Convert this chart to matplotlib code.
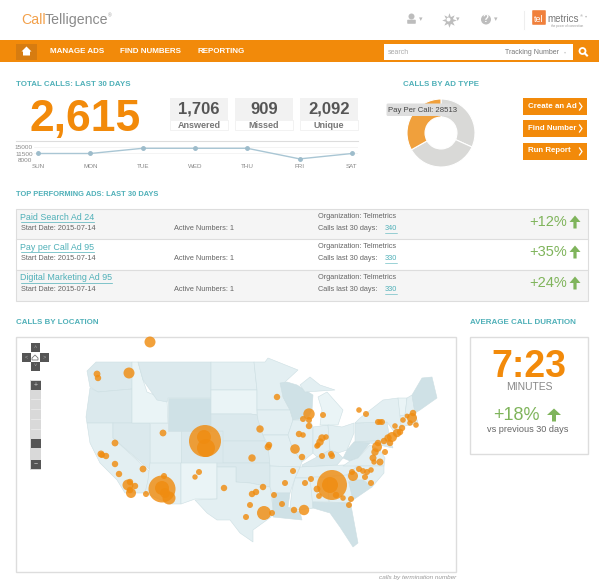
#dashboard mockup: everything laid out in pixel coordinates of the 599x587 screenshot
import matplotlib
matplotlib.use('Agg')
import matplotlib.pyplot as plt
from matplotlib.patches import Rectangle, Polygon, Circle, FancyBboxPatch, FancyArrow

plt.rcParams['font.family'] = ['Liberation Sans', 'DejaVu Sans']

W, H = 599, 587
ORANGE = '#f28a0a'
TEAL = '#4fb0b8'
GREEN = '#7fb45b'
DARK = '#555555'
GREY = '#777777'

#calls per day
days = ['SUN', 'MON', 'TUE', 'WED', 'THU', 'FRI', 'SAT']
day_calls = [11500, 11500, 14300, 14300, 14300, 8600, 11500]
call_ticks = [8000, 11500, 15000]

#donut
ad_type_calls = [27300, 30100, 28513]
ad_type_colors = ['#d9d9d7', '#d9d9d7', '#f0a03c']

#summary boxes
stat_values = ['1,706', '909', '2,092']
stat_labels = ['Answered', 'Missed', 'Unique']
stat_lefts = [170, 235, 300]
button_labels = ['Create an Ad', 'Find Number', 'Run Report']
button_tops = [98, 120, 143]

#top ads table
ad_names = ['Paid Search Ad 24', 'Pay per Call Ad 95', 'Digital Marketing Ad 95']
ad_calls = ['340', '330', '330']
ad_change = ['+12%', '+35%', '+24%']
ad_fills = ['#f5f5f5', '#ffffff', '#f5f5f5']

#state outlines, screenshot pixels, (points, shade)
L0, L1, L2, L3 = '#eaf4f6', '#e3eff2', '#dbe9ed', '#cfe1e6'
states = [
    ([(87,371),(96,362),(132,362),(132,389),(98,392),(90,387)], L2),  #WA
    ([(90,388),(98,392),(132,389),(132,423),(87,423),(86,417)], L2),  #OR
    ([(87,423),(113,423),(113,438),(149,471),(147,493),(125,493),(117,480),(100,463),(90,443)], L1),  #CA
    ([(113,423),(150,423),(150,470),(113,438)], L2),  #NV
    ([(132,362),(138,362),(143,380),(147,392),(167,400),(168,423),(132,423)], L0),  #ID
    ([(138,362),(211,362),(211,398),(168,398),(167,402),(157,400),(143,380)], L2),  #MT
    ([(168,398),(211,398),(211,431),(168,431)], L3),  #WY
    ([(150,423),(168,423),(168,431),(181,431),(181,463),(150,463)], L1),  #UT
    ([(181,431),(223,431),(223,463),(181,463)], L2),  #CO
    ([(150,463),(181,463),(181,504),(170,504),(145,493),(148,480)], L1),  #AZ
    ([(181,463),(217,463),(217,499),(195,499),(181,504)], L0),  #NM
    ([(211,362),(254,362),(257,390),(211,390)], L1),  #ND
    ([(211,390),(257,390),(257,415),(251,414),(211,414)], L0),  #SD
    ([(211,414),(251,414),(257,415),(263,435),(265,441),(223,441),(223,431),(211,431)], L2),  #NE
    ([(223,441),(265,441),(270,446),(270,463),(223,463)], L2),  #KS
    ([(223,463),(270,463),(270,487),(250,483),(236,482),(236,467),(217,467),(217,463)], L2),  #OK
    ([(217,467),(236,467),(236,482),(250,483),(270,487),(273,508),(271,517),(253,530),(253,542),(240,533),(230,520),(217,520),(207,513),(195,500),(217,499)], L1),  #TX
    ([(254,362),(265,362),(268,358),(298,370),(285,382),(283,397),(290,410),(257,410),(257,390)], L1),  #MN
    ([(257,410),(290,410),(293,420),(288,435),(263,435),(258,420)], L1),  #IA
    ([(263,435),(288,435),(292,447),(302,462),(300,467),(270,466),(268,445)], L1),  #MO
    ([(280,383),(287,382),(297,385),(313,395),(312,410),(308,418),(293,420),(290,410),(283,397)], L3),  #WI
    ([(293,420),(310,420),(313,427),(313,453),(302,462),(292,447),(288,435)], L1),  #IL
    ([(313,427),(328,425),(330,450),(317,457),(313,453)], L1),  #IN
    ([(318,397),(327,392),(343,410),(338,425),(320,425),(322,410)], L0),  #MI
    ([(300,385),(310,377),(320,385),(335,390),(305,392)], L1),  #MI upper
    ([(328,425),(342,427),(354,423),(354,433),(347,450),(338,453),(330,450)], L1),  #OH
    ([(302,465),(317,457),(330,450),(338,453),(343,458),(337,465),(302,467)], L2),  #KY
    ([(300,467),(343,465),(358,466),(347,475),(295,478)], L1),  #TN
    ([(347,450),(354,442),(362,442),(370,443),(358,458),(350,461),(343,458)], L3),  #WV
    ([(343,466),(350,461),(358,458),(370,445),(380,450),(385,458),(384,466)], L1),  #VA
    ([(347,475),(358,466),(384,466),(384,473),(372,487),(363,480),(350,480)], L1),  #NC
    ([(350,480),(363,480),(372,487),(353,500),(345,490)], L3),  #SC
    ([(327,477),(347,475),(353,500),(348,503),(329,502)], L1),  #GA
    ([(310,478),(327,477),(329,502),(313,502),(313,508),(309,508)], L1),  #AL
    ([(295,478),(310,478),(313,508),(300,510),(290,508),(292,490)], L1),  #MS
    ([(270,466),(300,467),(295,478),(290,493),(272,493),(270,487)], L1),  #AR
    ([(272,493),(290,493),(288,507),(300,512),(302,520),(273,517),(273,508)], L3),  #LA
    ([(313,502),(348,503),(350,500),(358,543),(353,547),(340,527),(330,513),(313,508)], L3),  #FL
    ([(355,423),(387,422),(390,440),(355,442)], L2),  #PA
    ([(355,423),(360,418),(383,400),(398,398),(402,422),(398,437),(387,422)], L1),  #NY
    ([(354,442),(390,440),(393,448),(370,443)], L2),  #MD
    ([(398,398),(407,398),(405,415),(400,416)], L0),  #VT
    ([(407,398),(412,395),(415,413),(405,415)], L1),  #NH
    ([(400,416),(415,413),(418,423),(401,427)], L1),  #MA
    ([(412,395),(422,378),(432,377),(437,398),(420,410),(415,413)], L3),  #ME
]

#bubbles: x, y, radius in screenshot pixels
bub_x = [150,97,98,129,163,205,204,206,115,101,106,102,115,119,143,164,199,195,224,162,162,169,165,146,128,135,130,131,130,
         277,309,303,309,309,323,359,366,378,382,380,260,299,303,318,320,322,326,317,269,268,295,302,252,322,331,332,
         293,311,305,285,332,330,317,319,343,336,263,252,256,274,250,246,264,272,282,294,304,351,349,371,353,352,
         359,363,367,365,371,380,373,374,385,377,375,378,384,390,392,397,402,395,388,400,412,413,403,416,407,410]
bub_y = [342,374,378,373,433,441,437,448,443,454,456,455,464,474,469,476,472,477,488,489,488,498,493,494,485,486,482,493,490,
         397,414,419,420,426,415,410,414,422,422,422,429,434,435,445,442,438,437,446,445,447,449,457,458,456,454,456,
         471,479,483,483,485,485,489,496,498,495,487,494,492,495,505,517,513,513,504,510,510,499,505,483,476,472,
         469,471,472,477,470,462,458,462,452,447,452,443,441,443,437,433,428,426,438,432,418,413,420,425,416,423]
bub_r = [5.5,3.4,3.2,5.5,3.4,16,7,9,3.4,3.5,3.2,3,3.2,3.2,3.4,3,3,2.7,3.2,13.5,7,6.5,5,3,5.5,3.2,3.2,5,3.2,
         3.2,5.7,3,3,3.2,3,2.8,3,3,3,2.8,3.7,3.2,2.8,2.8,3.7,3.7,2.8,2.8,3.2,3.4,4.8,3.2,3.7,3,3,3,
         3,3,3,3,15,8,3.4,2.9,2.8,3.2,3.2,3.2,3.2,3,3,3,7,3,3,3.2,5.2,3,3,3,5,3,
         3,2.9,3,3,2.8,3.5,3.5,2.7,3,5,3.7,3.2,3.2,3.2,5,4.2,3.2,2.8,3.7,3.2,5,3.2,2.8,2.8,2.4,2.8]


def rect(x0, y0, x1, y1, **kw):
    ax.add_patch(Rectangle((x0, y0), x1 - x0, y1 - y0, **kw))

def label(x, y, s, size, color=DARK, weight='normal', ha='left', **kw):
    ax.text(x, y + 1, s, fontsize=size, color=color, fontweight=weight, ha=ha, va='center', **kw)

def inset(x0, y0, x1, y1):
    return fig.add_axes([x0 / W, 1 - y1 / H, (x1 - x0) / W, (y1 - y0) / H])

def up_arrow(x, y, head=11, stem=3.2):
    ax.add_patch(FancyArrow(x, y + 6.5, 0, -13, width=stem, head_width=head, head_length=6.5,
                            length_includes_head=True, color=GREEN, lw=0))


fig = plt.figure(figsize=(W / 100, H / 100), dpi=100)
ax = fig.add_axes([0, 0, 1, 1])
ax.set_xlim(0, W)
ax.set_ylim(H, 0)
ax.axis('off')

#header
label(21.5, 19, 'Call', 10.2, color='#f2a04a')
label(45, 19, 'Telligence', 10.2, color='#8a8a8a')
label(108, 15, '®', 3.5, color='#999999')
#person icon
ax.add_patch(Circle((411.5, 16.5), 3, color='#bdbdbd', lw=0))
ax.add_patch(FancyBboxPatch((408, 20.5), 7, 2.5, boxstyle='round,pad=0.8', color='#bdbdbd', lw=0))
label(421, 19, '▾', 5, color='#bbbbbb', ha='center')
#gear icon
ax.scatter([448.5], [19.5], s=110, marker=(8, 1, 0), color='#bdbdbd', lw=0)
ax.add_patch(Circle((448.5, 19.5), 2, color='white', lw=0))
label(458, 19, '▾', 5, color='#bbbbbb', ha='center')
#help icon
ax.add_patch(Circle((486, 19.5), 5, color='#bdbdbd', lw=0))
label(486, 18.5, '?', 7, color='white', weight='bold', ha='center')
label(496, 19, '▾', 5, color='#bbbbbb', ha='center')
ax.plot([524, 524], [11, 29], color='#eeeeee', lw=0.8)
#telmetrics logo
ax.add_patch(FancyBboxPatch((533, 11), 12, 13, boxstyle='round,pad=0.8', color='#f0803c', lw=0))
label(539, 19, 'tel', 6.5, color='white', ha='center')
label(547, 18.5, 'metrics', 7, color='#777777')
label(580, 15, '®', 3, color='#999999')
label(567, 25, 'the power of connection', 2.2, color='#999999', ha='center')
label(586, 15, '▾', 3, color='#bbbbbb', ha='center')

#nav bar
rect(0, 40, W, 62, color=ORANGE, lw=0)
rect(16, 44, 37, 60, color='#d77c10', lw=0)
ax.add_patch(Polygon([(21.5, 51.5), (26.5, 46.5), (31.5, 51.5), (30, 51.5), (30, 55.5), (23, 55.5), (23, 51.5)], color='white', lw=0))
label(50, 50.5, 'MANAGE ADS', 5.8, color='white', weight='bold')
label(120.5, 50.5, 'FIND NUMBERS', 5.8, color='white', weight='bold')
label(197, 50.5, 'REPORTING', 5.8, color='white', weight='bold')
rect(384, 44, 573, 60, color='white', lw=0)
label(387.5, 51, 'search', 5, color='#aaaaaa')
label(505, 51, 'Tracking Number', 5, color='#777777')
label(565, 51, '▾', 3, color='#cccccc', ha='center')
ax.add_patch(Circle((582.5, 51), 3, fill=False, ec='white', lw=1.3))
ax.plot([584.7, 587], [53.2, 55.5], color='white', lw=1.5)

#total calls
label(16, 84, 'TOTAL CALLS: LAST 30 DAYS', 5.7, color=TEAL, weight='bold')
label(85.5, 119, '2,615', 32, color=ORANGE, weight='bold', ha='center')
for left, value, name in zip(stat_lefts, stat_values, stat_labels):
    rect(left, 98, left + 58, 120, color='#f2f2f2', lw=0)
    rect(left, 120, left + 58, 130, fc='white', ec='#f0f0f0', lw=0.6)
    label(left + 29, 108.5, value, 12, weight='bold', ha='center')
    label(left + 29, 124.5, name, 6.5, color=GREY, weight='bold', ha='center')

ax.plot([16, 358], [141, 141], color='#dddddd', lw=0.8)

#calls per day chart
line_ax = inset(34, 147, 358, 160)
line_ax.set_xlim(-0.076, 6.115)
line_ax.set_ylim(8000, 15000)
line_ax.plot(range(len(days)), day_calls, color='#a9c6d4', lw=1, marker='o', ms=2.5,
             mfc='#9dbccb', mec='#9dbccb', clip_on=False)
line_ax.set_xticks(range(len(days)))
line_ax.set_xticklabels(days, fontsize=4.5, color='#888888')
line_ax.set_yticks(call_ticks)
line_ax.set_yticklabels([str(v) for v in call_ticks], fontsize=4.6, color='#888888')
line_ax.tick_params(length=0, pad=1)
line_ax.tick_params(axis='x', pad=3)
line_ax.grid(axis='y', color='#f0f0f0', lw=0.5)
line_ax.set_axisbelow(True)
line_ax.patch.set_alpha(0)
for spine in line_ax.spines.values():
    spine.set_visible(False)

#calls by ad type
label(403, 84, 'CALLS BY AD TYPE', 5.7, color=TEAL, weight='bold')
pie_ax = inset(441 - 34, 133 - 34, 441 + 34, 133 + 34)
pie_ax.pie(ad_type_calls, colors=ad_type_colors, startangle=90, counterclock=False, radius=1,
           wedgeprops=dict(width=0.53, edgecolor='white', linewidth=0.8))
pie_ax.set_xlim(-1, 1)
pie_ax.set_ylim(-1, 1)
tip_ax = inset(0, 0, W, H)
tip_ax.set_xlim(0, W)
tip_ax.set_ylim(H, 0)
tip_ax.axis('off')
tip_ax.add_patch(FancyBboxPatch((388, 105), 62, 9.5, boxstyle='round,pad=1.5', color='#dedede', lw=0))
tip_ax.text(388.5, 110.5, 'Pay Per Call: 28513', fontsize=5.6, color='#444444', va='center')

#buttons
for top, name in zip(button_tops, button_labels):
    rect(523, top, 587, top + 16.5, color=ORANGE, lw=0)
    label(528, top + 7, name, 5.7, color='white', weight='bold')
    ax.plot([579.5, 582, 579.5], [top + 5, top + 8.5, top + 12], color='white', lw=0.9)

#top performing ads
label(16, 194, 'TOP PERFORMING ADS: LAST 30 DAYS', 5.4, color=TEAL, weight='bold')
row_tops = [209, 239, 270]
for top, name, calls, change, fill in zip(row_tops, ad_names, ad_calls, ad_change, ad_fills):
    rect(15.5, top, 588, top + 30.5, fc=fill, ec='#dddddd', lw=0.8)
    label(20.5, top + 7, name, 6.4, color=TEAL)
    width = {'Paid Search Ad 24': 73, 'Pay per Call Ad 95': 73.5, 'Digital Marketing Ad 95': 91.5}[name]
    ax.plot([20.5, 20.5 + width], [top + 13, top + 13], color=TEAL, lw=0.5)
    label(21, top + 18.5, 'Start Date: 2015-07-14', 5.3, color='#666666')
    label(174.5, top + 18.5, 'Active Numbers: 1', 5.3, color='#666666')
    label(318, top + 6.5, 'Organization: Telmetrics', 5.3, color='#666666')
    label(318, top + 18.5, 'Calls last 30 days: ', 5.3, color='#666666')
    label(385, top + 18.5, calls, 5.3, color=TEAL)
    ax.plot([385, 397], [top + 24, top + 24], color=TEAL, lw=0.4)
    label(567.5, top + 12, change, 10.5, color=GREEN, ha='right')
    up_arrow(575, top + 13)

#calls by location
label(16, 322, 'CALLS BY LOCATION', 5.7, color=TEAL, weight='bold')
rect(16, 337, 456, 572, fc='white', ec='#dddddd', lw=1)
for pts, shade in states:
    ax.add_patch(Polygon(pts, closed=True, fc=shade, ec='#cddfe3', lw=0.4))
ax.scatter(bub_x, bub_y, s=[(2 * r * 0.72) ** 2 for r in bub_r], color='#f08c10', alpha=0.82, lw=0, zorder=3)

#map controls
for cx, cy, glyph in [(35, 347, '˄'), (26, 357, '<'), (44, 357, '>'), (35, 366, '˅')]:
    rect(cx - 4.5, cy - 4.5, cx + 4.5, cy + 4.5, color='#555555', lw=0)
    label(cx, cy - 1, glyph, 4, color='#aaaaaa', ha='center')
ax.add_patch(Polygon([(32, 358), (35, 355), (38, 358), (38, 360), (32, 360)], fc='white', ec='#777777', lw=0.6))
rect(30, 380, 41, 470, color='#d9d9d9', lw=0)
for cy in [399, 409, 419, 429]:
    ax.plot([31, 40], [cy, cy], color='#eeeeee', lw=0.5)
for cy, glyph in [(385, '+'), (443, ''), (464, '−')]:
    rect(30.5, cy - 4.5, 40.5, cy + 4.5, color='#555555', lw=0)
    label(35.5, cy - 1, glyph, 5, color='#cccccc', ha='center')
label(456, 576, 'calls by termination number', 4.6, color='#999999', ha='right', style='italic')

#average call duration
label(470, 322, 'AVERAGE CALL DURATION', 5.8, color=TEAL, weight='bold')
rect(469.5, 337, 588, 454, fc='white', ec='#dddddd', lw=1)
label(528.5, 366, '7:23', 27, color=ORANGE, weight='bold', ha='center')
label(529, 386.5, 'MINUTES', 7.5, color='#888888', ha='center')
label(540, 414, '+18%', 13, color=GREEN, ha='right')
up_arrow(554, 415, head=14, stem=4)
label(528, 429, 'vs previous 30 days', 6.6, color='#666666', ha='center')

fig.savefig('out.png', dpi=100)
